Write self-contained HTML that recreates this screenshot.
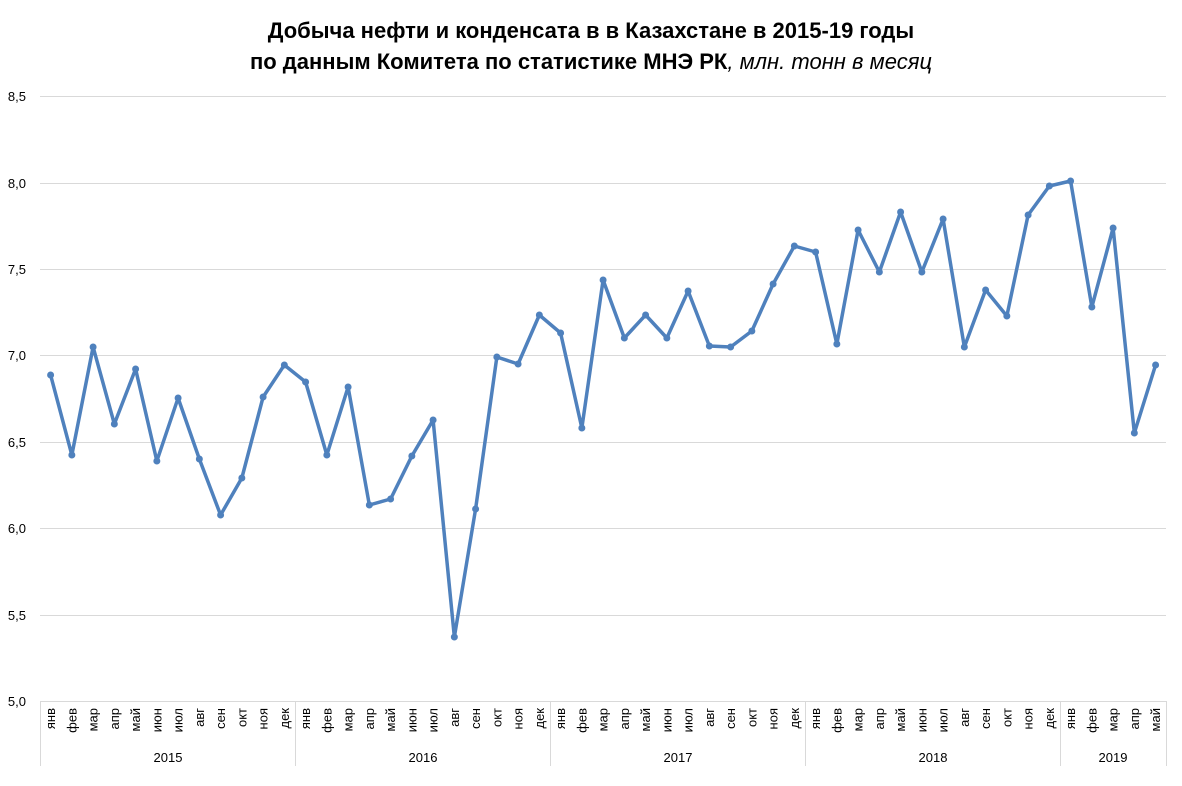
<!DOCTYPE html>
<html><head><meta charset="utf-8"><style>
body{margin:0;background:#fff}
svg text{font-family:"Liberation Sans","DejaVu Sans",sans-serif;fill:#000}
</style></head><body>
<svg width="1182" height="781" xmlns="http://www.w3.org/2000/svg">
<text x="591" y="38" text-anchor="middle" font-size="22" font-weight="bold">Добыча нефти и конденсата в в Казахстане в 2015-19 годы</text>
<text x="591" y="69" text-anchor="middle" font-size="22"><tspan font-weight="bold">по данным Комитета по статистике МНЭ РК</tspan><tspan font-style="italic">, млн. тонн в месяц</tspan></text>
<g stroke="#d9d9d9" stroke-width="1">
<line x1="40" x2="1166" y1="96.5" y2="96.5"/><line x1="40" x2="1166" y1="183.5" y2="183.5"/>
<line x1="40" x2="1166" y1="269.5" y2="269.5"/><line x1="40" x2="1166" y1="355.5" y2="355.5"/>
<line x1="40" x2="1166" y1="442.5" y2="442.5"/><line x1="40" x2="1166" y1="528.5" y2="528.5"/>
<line x1="40" x2="1166" y1="615.5" y2="615.5"/><line x1="40" x2="1166" y1="701.5" y2="701.5"/>
<line x1="40.5" x2="40.5" y1="701" y2="766"/><line x1="295.5" x2="295.5" y1="701" y2="766"/>
<line x1="550.5" x2="550.5" y1="701" y2="766"/><line x1="805.5" x2="805.5" y1="701" y2="766"/>
<line x1="1060.5" x2="1060.5" y1="701" y2="766"/><line x1="1166.5" x2="1166.5" y1="701" y2="766"/>
</g>
<g font-size="13" text-anchor="end">
<text x="26" y="101">8,5</text><text x="26" y="188">8,0</text><text x="26" y="274">7,5</text>
<text x="26" y="360">7,0</text><text x="26" y="447">6,5</text><text x="26" y="533">6,0</text>
<text x="26" y="620">5,5</text><text x="26" y="706">5,0</text>
</g>
<g font-size="13" text-anchor="middle">
<text x="168" y="762">2015</text><text x="423" y="762">2016</text><text x="678" y="762">2017</text>
<text x="933" y="762">2018</text><text x="1113" y="762">2019</text>
</g>
<g id="m" font-size="13" text-anchor="end"></g>
<polyline id="ln" fill="none" stroke="#4f81bd" stroke-width="3.5" stroke-linejoin="round"/>
<g id="pts" fill="#4f81bd"></g>
</svg>
<script>
var ys=[375,455,347,424,369,461,398,459,515,478,397,365,382,455,387,505,499,456,420,637,509,357,364,315,333,428,280,338,315,338,291,346,347,331,284,246,252,344,230,272,212,272,219,347,290,316,215,186,181,307,228,433,365];
var mo=["янв","фев","мар","апр","май","июн","июл","авг","сен","окт","ноя","дек"];
var ns="http://www.w3.org/2000/svg",pts=[],g=document.getElementById("pts"),m=document.getElementById("m");
ys.forEach(function(y,i){var x=50.6+i*21.25;pts.push(x+","+y);
var c=document.createElementNS(ns,"circle");c.setAttribute("cx",x);c.setAttribute("cy",y);c.setAttribute("r",3.5);g.appendChild(c);
var t=document.createElementNS(ns,"text");t.setAttribute("transform","translate("+(x+4.5)+",708) rotate(-90)");t.textContent=mo[i%12];m.appendChild(t);});
document.getElementById("ln").setAttribute("points",pts.join(" "));
</script>
</body></html>
